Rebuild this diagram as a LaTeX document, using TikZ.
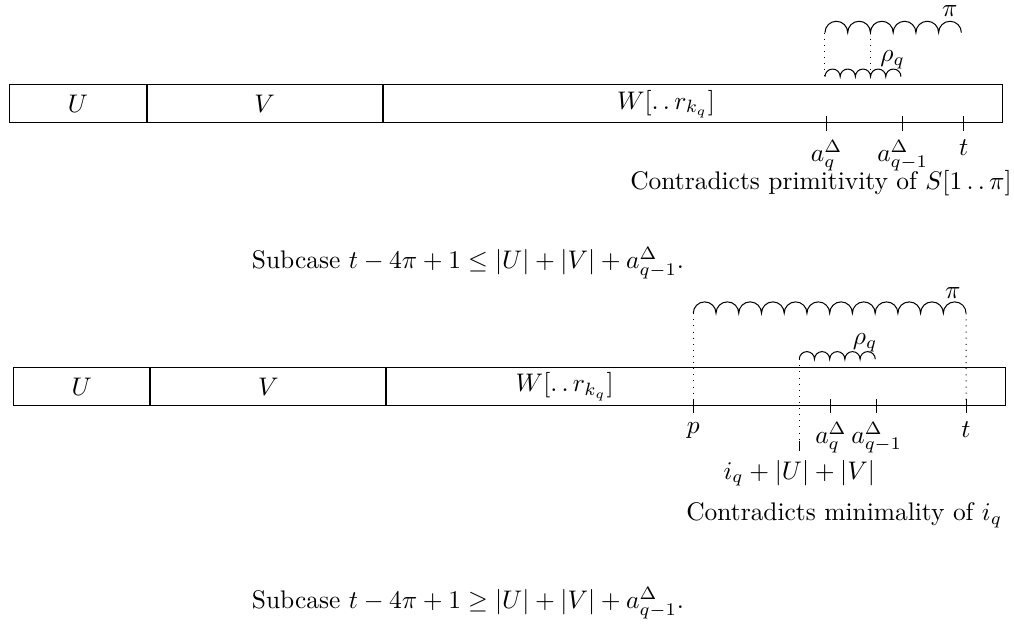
\documentclass[tikz,border=0pt]{standalone}
\usepackage{amsmath,amssymb}
\usepackage{tikz}
\usetikzlibrary{positioning,calc}

\newcommand{\dd}{\mathinner{\ldotp\ldotp}}

\begin{document}
\begin{tikzpicture}[
    cell/.style={rectangle, draw, minimum height=0.525cm, inner sep=0pt, anchor=south west},
    guide/.style={dotted},
    tickbar/.style={line width=0.4pt},
    node distance=0pt
]
\useasboundingbox (0,0) rectangle (14.006,8.646);

% --- first case: primitivity ---
\node[cell, minimum width=1.884cm] (u1) at (0.128,6.947) {$U$};
\node[cell, minimum width=3.246cm, right=0pt of u1] (v1) {$V$};
\node[cell, minimum width=8.554cm, right=0pt of v1] (w1) {};
\node (wlab1) at (9.20,7.21) {$W[\dd r_{k_q}]$};

\coordinate (pi1) at (11.395,8.195);
\coordinate (rho1) at (11.395,7.587);
\draw (pi1) \foreach \i in {1,...,6} {arc[start angle=180, end angle=0, radius=0.157]} coordinate (pi1e);
\draw (rho1) \foreach \i in {1,...,5} {arc[start angle=180, end angle=0, radius=0.105]} coordinate (rho1e);
\node[inner sep=0pt] (pilab1) at (13.12,8.50) {$\pi$};
\node (rholab1) at (12.33,7.82) {$\rho_q$};
\draw[guide] (pi1) -- (rho1);
\draw[guide] ($(pi1)+(0.628,0)$) -- ($(rho1)+(0.628,0)$);

\coordinate (aq1) at (11.418,6.947);
\coordinate (aqm1) at (12.468,6.947);
\coordinate (t1) at (13.311,6.947);
\draw[tickbar] ([yshift=0.09cm]aq1) -- ([yshift=-0.11cm]aq1) node[below] (aqlab1) {$a^{\Delta}_{q}$};
\draw[tickbar] ([yshift=0.09cm]aqm1) -- ([yshift=-0.11cm]aqm1) node[below] (aqmlab1) {$a^{\Delta}_{q-1}$};
\draw[tickbar] ([yshift=0.09cm]t1) -- ([yshift=-0.11cm]t1) node[below] (tlab1) {$t$};
\node (why1) at (11.34,6.12) {Contradicts primitivity of $S[1\dd\pi]$};

\node (cap1) at (6.464,5.014) {Subcase $t-4\pi+1\le|U|+|V|+a^{\Delta}_{q-1}$.};

% --- second case: minimality ---
\node[cell, minimum width=1.878cm] (u2) at (0.184,3.039) {$U$};
\node[cell, minimum width=3.246cm, right=0pt of u2] (v2) {$V$};
\node[cell, minimum width=8.546cm, right=0pt of v2] (w2) {};
\node (wlab2) at (7.80,3.305) {$W[\dd r_{k_q}]$};

\coordinate (pi2) at (9.576,4.319);
\coordinate (rho2) at (11.04,3.684);
\draw (pi2) \foreach \i in {1,...,12} {arc[start angle=180, end angle=0, radius=0.157]} coordinate (pi2e);
\draw (rho2) \foreach \i in {1,...,5} {arc[start angle=180, end angle=0, radius=0.105]} coordinate (rho2e);
\node (pilab2) at (13.16,4.6) {$\pi$};
\node (rholab2) at (11.95,3.909) {$\rho_q$};

\coordinate (p2) at (9.576,3.039);
\coordinate (aq2) at (11.478,3.039);
\coordinate (aqm2) at (12.109,3.039);
\coordinate (t2) at (13.344,3.039);
\coordinate (iq2) at (11.04,2.555);
\draw[guide] (pi2) -- (p2);
\draw[guide] (pi2e) -- (t2);
\draw[guide] (rho2) -- (iq2);
\draw[tickbar] ([yshift=0.09cm]p2) -- ([yshift=-0.1cm]p2) node[below] (plab2) {$p$};
\draw[tickbar] ([yshift=0.09cm]aq2) -- ([yshift=-0.1cm]aq2) node[below] (aqlab2) {$a^{\Delta}_{q}$};
\draw[tickbar] ([yshift=0.09cm]aqm2) -- ([yshift=-0.1cm]aqm2) node[below] (aqmlab2) {$a^{\Delta}_{q-1}$};
\draw[tickbar] ([yshift=0.09cm]t2) -- ([yshift=-0.1cm]t2) node[below] (tlab2) {$t$};
\draw[tickbar] (iq2) -- ++(0,-0.138) node[below] (iqlab2) {$i_q+|U|+|V|$};
\node (why2) at (11.66,1.533) {Contradicts minimality of $i_q$};

\node (cap2) at (6.464,0.318) {Subcase $t-4\pi+1\ge|U|+|V|+a^{\Delta}_{q-1}$.};
\end{tikzpicture}
\end{document}
